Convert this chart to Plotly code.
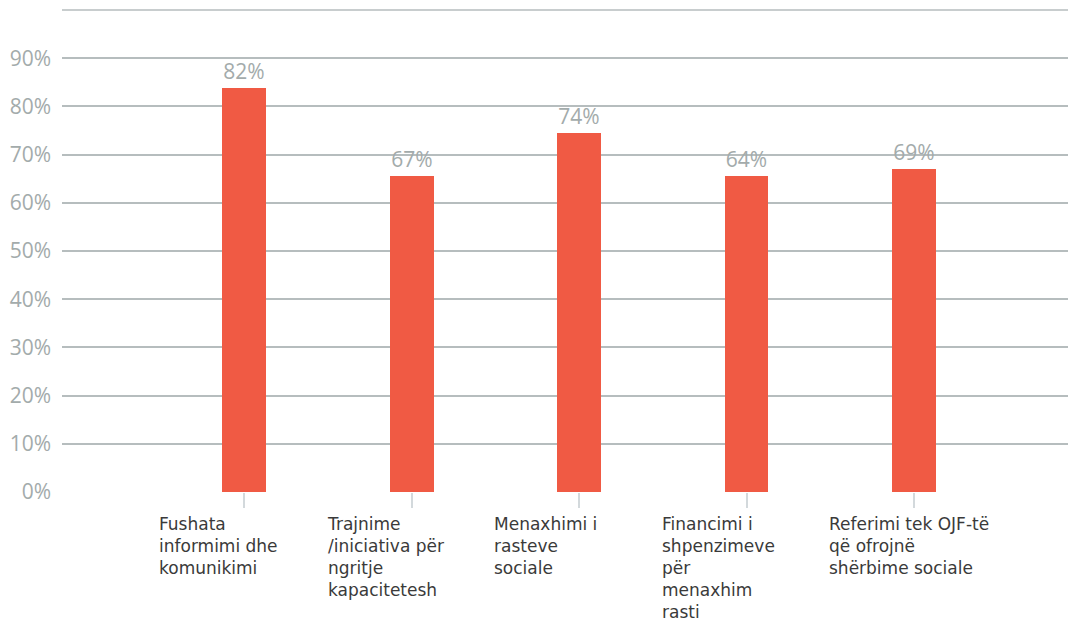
import plotly.graph_objects as go

categories = [
    "Fushata<br>informimi dhe<br>komunikimi",
    "Trajnime<br>/iniciativa për<br>ngritje<br>kapacitetesh",
    "Menaxhimi i<br>rasteve<br>sociale",
    "Financimi i<br>shpenzimeve<br>për<br>menaxhim<br>rasti",
    "Referimi tek OJF-të<br>që ofrojnë<br>shërbime sociale",
]
bar_heights = [83.8, 65.6, 74.4, 65.6, 67.0]
value_labels = ["82%", "67%", "74%", "64%", "69%"]
y_ticks = [0, 10, 20, 30, 40, 50, 60, 70, 80, 90]
y_ticktext = ["0%", "10%", "20%", "30%", "40%", "50%", "60%", "70%", "80%", "90%"]
y_top = 100

xs = list(range(len(categories)))

fig = go.Figure()
fig.add_trace(go.Bar(
    x=xs,
    y=bar_heights,
    width=0.262,
    marker=dict(color="#f05a44", line=dict(width=0)),
    text=value_labels,
    textposition="outside",
    textfont=dict(family="Open Sans", size=21, color="#a3abab"),
    cliponaxis=False,
    hoverinfo="skip",
))

fig.add_hline(y=y_top, line=dict(color="#b6bdbe", width=1.5), layer="below")

for i, cat in enumerate(categories):
    fig.add_annotation(
        x=i - 0.5, y=0, xref="x", yref="y",
        xanchor="left", yanchor="top", yshift=-20, xshift=-3,
        text=cat, showarrow=False, align="left",
        font=dict(family="DejaVu Sans", size=17, color="#3a3a3a"),
    )

fig.update_layout(
    width=1068, height=615,
    margin=dict(l=54, r=0, t=1, b=131),
    paper_bgcolor="white", plot_bgcolor="white",
    showlegend=False,
    bargap=0,
    xaxis=dict(
        range=[-1.087, 4.967],
        tickmode="array", tickvals=xs,
        showticklabels=False,
        ticks="outside", ticklen=15, tickwidth=1.5, tickcolor="#d3d9dc",
        showgrid=False, zeroline=False, showline=False,
    ),
    yaxis=dict(
        range=[0, 100.2],
        tickmode="array", tickvals=y_ticks, ticktext=y_ticktext,
        showgrid=True, gridcolor="#b6bdbe", gridwidth=1.5,
        zeroline=False, showline=False,
        ticks="", ticklabelstandoff=10,
        tickfont=dict(family="Open Sans", size=21, color="#a3abab"),
    ),
)

fig.write_html("out.html")
